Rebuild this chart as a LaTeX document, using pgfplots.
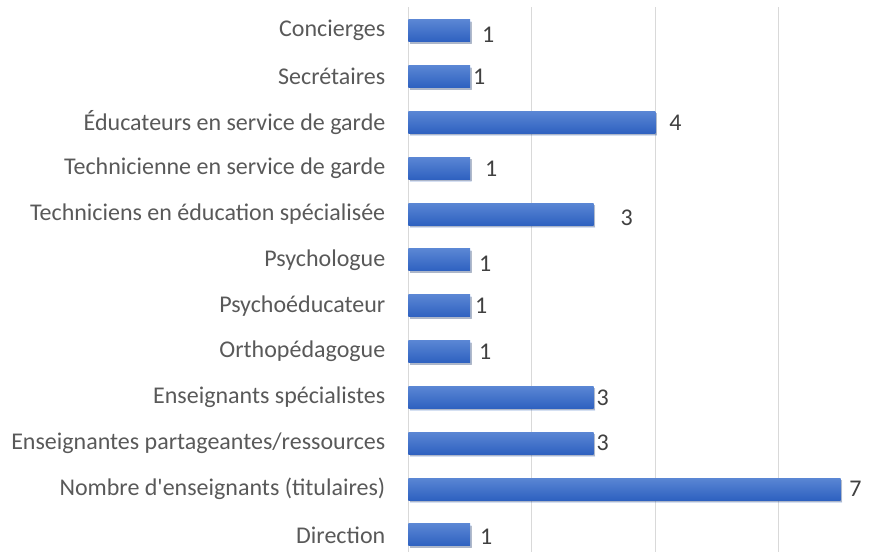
\documentclass[border=0pt]{standalone}
\usepackage{fontspec}
\setmainfont{Carlito}
\usepackage{pgfplots}
\usepackage{pgfplotstable}
\pgfplotsset{compat=1.18}
\usetikzlibrary{shadows}
\definecolor{barTop}{HTML}{5A86D4}
\definecolor{barBot}{HTML}{2E61C0}
\definecolor{lbl}{HTML}{595959}
\definecolor{val}{HTML}{404040}
\definecolor{gridc}{HTML}{D9D9D9}
\pgfplotstableread{
y v dx dy
0 1 16 2
1 7 15 0
2 3 9 0
3 3 9 0
4 1 15 0
5 1 11 0
6 1 15 4
7 3 33 4
8 1 21 0
9 4 20 0
10 1 9 0
11 1 18 4
}\data
\pgfplotsset{mybar/.style={xbar, bar width=22pt, bar shift=0pt, draw=none, top color=barTop, bottom color=barBot,
  drop shadow={shadow xshift=1.5pt, shadow yshift=-2pt, opacity=0.2, fill=black}}}
\begin{document}
\begin{tikzpicture}
\begin{axis}[
  scale only axis, width=486.5pt, height=545pt,
  xmin=0, xmax=7.88, ymin=-0.37, ymax=11.52,
  axis line style={draw=none},
  xtick={0,2,4,6}, xticklabels={}, xmajorgrids, ymajorgrids=false,
  grid style={color=gridc, line width=1pt},
  major tick length=0pt,
  ytick={0,...,11},
  yticklabels={Direction, Nombre d\textquotesingle enseignants (titulaires), Enseignantes partageantes/ressources, Enseignants spécialistes, Orthopédagogue, Psychoéducateur, Psychologue, Techniciens en éducation spécialisée, Technicienne en service de garde, Éducateurs en service de garde, Secrétaires, Concierges},
  y tick label style={font=\fontsize{24}{26}\selectfont, text=lbl, inner sep=0pt, xshift=-23pt},
  /pgf/number format/assume math mode=true,
  clip=false,
]
\addplot[mybar] coordinates {(1,0)};
\addplot[mybar] coordinates {(7,1)};
\addplot[mybar] coordinates {(3,2)};
\addplot[mybar] coordinates {(3,3)};
\addplot[mybar] coordinates {(1,4)};
\addplot[mybar] coordinates {(1,5)};
\addplot[mybar] coordinates {(1,6)};
\addplot[mybar] coordinates {(3,7)};
\addplot[mybar] coordinates {(1,8)};
\addplot[mybar] coordinates {(4,9)};
\addplot[mybar] coordinates {(1,10)};
\addplot[mybar] coordinates {(1,11)};
\addplot[draw=none, mark=none, point meta=x,
  visualization depends on={\thisrow{dx} \as \dx},
  visualization depends on={\thisrow{dy} \as \dy},
  nodes near coords,
  nodes near coords style={anchor=center, xshift=\dx pt, yshift=-\dy pt, font=\fontsize{24}{26}\selectfont, text=val},
] table[x=v, y=y] {\data};
\pgfresetboundingbox
\path[use as bounding box] (rel axis cs:-0.8397,0) rectangle (rel axis cs:1,1.0128);
\end{axis}
\end{tikzpicture}
\end{document}
